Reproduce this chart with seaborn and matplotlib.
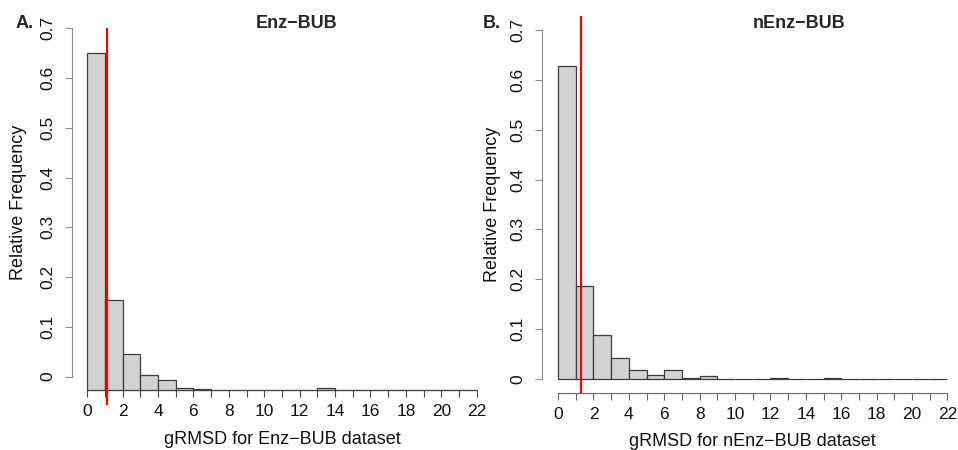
import numpy as np
import pandas as pd
import matplotlib
matplotlib.use("Agg")
import matplotlib.pyplot as plt
import seaborn as sns

# relative frequency per 1-unit gRMSD bin, 0-1 ... 21-22
bin_edges = list(range(0, 23))
enz_freq = [0.677, 0.181, 0.072, 0.031, 0.021, 0.005, 0.002, 0, 0, 0, 0,
            0, 0, 0.005, 0, 0, 0, 0, 0, 0, 0, 0.001]
nenz_freq = [0.628, 0.187, 0.088, 0.0415, 0.019, 0.0074, 0.019, 0.001, 0.006, 0, 0,
             0, 0.001, 0, 0, 0.001, 0, 0, 0, 0, 0, 0]
enz_cutoff = 1.10
nenz_cutoff = 1.28
enz_shift = -0.0274  # panel A bars sit a little below the y axis zero

x_ticks = list(range(0, 23))
x_ticklabels = [str(t) if t % 2 == 0 else "" for t in x_ticks]
y_ticks = [0, 0.1, 0.2, 0.3, 0.4, 0.5, 0.6, 0.7]
y_ticklabels = ["0", "0.1", "0.2", "0.3", "0.4", "0.5", "0.6", "0.7"]

sns.set_style("ticks")
plt.rcParams["font.family"] = ["Liberation Sans", "DejaVu Sans"]

W, H = 958, 450
fig = plt.figure(figsize=(W / 100, H / 100), dpi=100)


def axes_px(left, top, right, bottom):
    return fig.add_axes([left / W, 1 - bottom / H, (right - left) / W, (bottom - top) / H])


def draw_panel(ax, freq, cutoff, xlabel, ylim, xlim, axis_col):
    df = pd.DataFrame({"mid": np.array(bin_edges[:-1]) + 0.5, "freq": freq})
    sns.histplot(data=df, x="mid", weights="freq", bins=bin_edges, ax=ax,
                 color="#d3d3d3", edgecolor="#3c3c3c", linewidth=0.9, alpha=1)
    ax.axvline(cutoff, color="#ff0000", linewidth=1.6, zorder=5)
    ax.set_xlim(*xlim)
    ax.set_ylim(*ylim)
    for s in ["top", "right"]:
        ax.spines[s].set_visible(False)
    ax.spines["left"].set_bounds(0, 0.7)
    ax.spines["left"].set_color("#8c8c8c")
    ax.spines["bottom"].set_bounds(0, 22)
    ax.spines["bottom"].set_color(axis_col)
    ax.set_xticks(x_ticks)
    ax.set_xticklabels(x_ticklabels)
    ax.set_yticks(y_ticks)
    ax.set_yticklabels(y_ticklabels)
    ax.tick_params(axis="x", direction="out", length=4.7, width=0.8, color=axis_col,
                   labelsize=12.5, pad=5, labelcolor="#111111")
    ax.tick_params(axis="y", direction="out", length=5, width=0.8, color="#8c8c8c",
                   labelsize=12.5, pad=7, labelrotation=90, labelcolor="#111111")
    for lbl in ax.get_yticklabels():
        lbl.set_va("center")
    ax.set_xlabel(xlabel, fontsize=13, color="#111111")
    ax.set_ylabel("Relative Frequency", fontsize=13, color="#111111")


# panel A
ax1 = axes_px(72, 28.3, 480.2, 405)
draw_panel(ax1, enz_freq, enz_cutoff, "gRMSD for Enz\u2212BUB dataset",
           (-0.057, 0.7), (-0.86, 22.2), "#444444")
for p in ax1.patches:
    p.set_y(enz_shift)
ax1.spines["bottom"].set_position(("data", enz_shift))
ax1.xaxis.set_label_coords(0.515, -0.07)
ax1.yaxis.set_label_coords(-0.111, 0.537)

# panel B
ax2 = axes_px(542.3, 16, 949.2, 393.3)
draw_panel(ax2, nenz_freq, nenz_cutoff, "gRMSD for nEnz\u2212BUB dataset",
           (-0.0287, 0.728), (-0.89, 22.1), "#666666")
ax2.xaxis.set_label_coords(0.516, -0.104)
ax2.yaxis.set_label_coords(-0.102, 0.5)

fig.text(297 / W, 1 - 23 / H, "Enz\u2212BUB", ha="center", va="center",
         fontsize=13, fontweight="bold")
fig.text(799 / W, 1 - 23 / H, "nEnz\u2212BUB", ha="center", va="center",
         fontsize=13, fontweight="bold")
fig.text(25 / W, 1 - 24 / H, "A.", ha="center", va="center", fontsize=13, fontweight="bold")
fig.text(492 / W, 1 - 24 / H, "B.", ha="center", va="center", fontsize=13, fontweight="bold")

fig.savefig("out.png", dpi=100)
